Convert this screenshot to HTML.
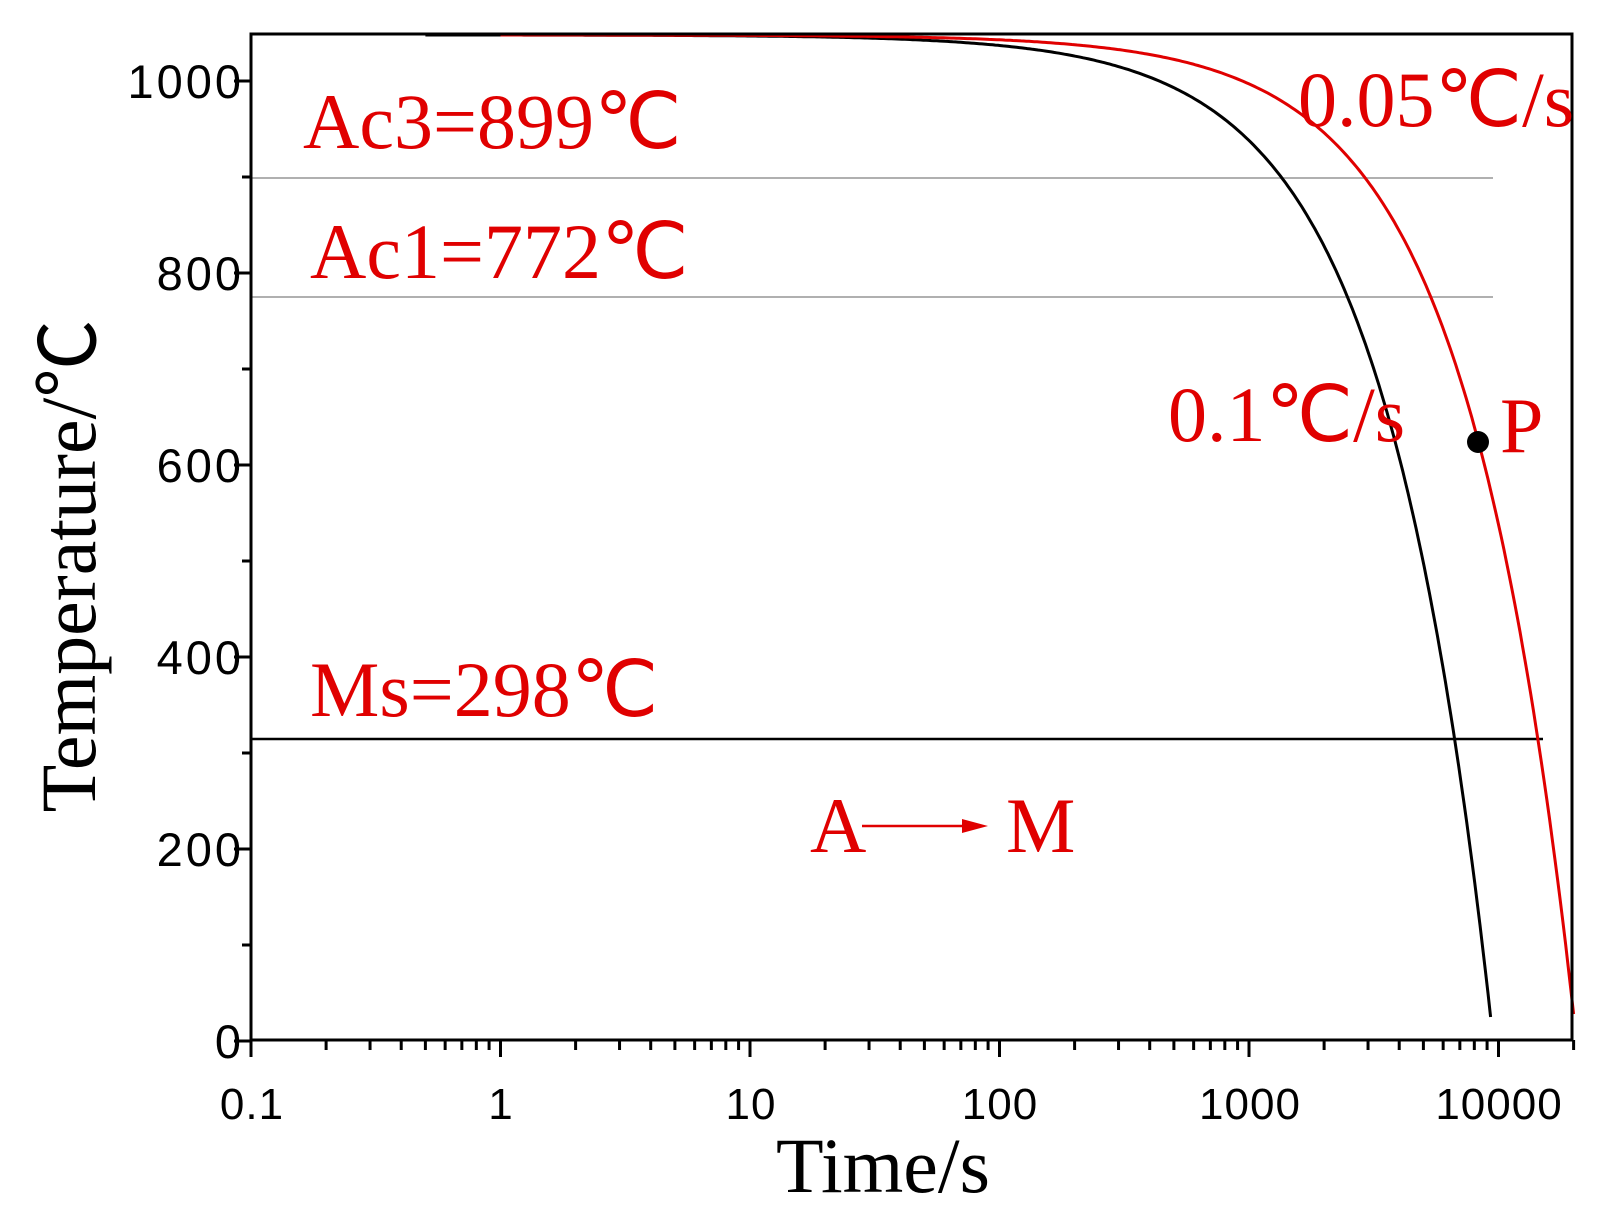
<!DOCTYPE html>
<html><head><meta charset="utf-8"><style>
html,body{margin:0;padding:0;background:#fff;}
svg{display:block;}
.t{font-family:"Liberation Serif",serif;fill:#e00000;}
.n{font-family:"Liberation Sans",sans-serif;fill:#000;}
</style></head><body>
<svg id="s" width="1617" height="1218" viewBox="0 0 1617 1218" xmlns="http://www.w3.org/2000/svg">
<rect width="1617" height="1218" fill="#fff"/>
<line x1="251" y1="178" x2="1493" y2="178" stroke="#b0b0b0" stroke-width="2"/>
<line x1="251" y1="297" x2="1493" y2="297" stroke="#b0b0b0" stroke-width="2"/>
<line x1="251" y1="739" x2="1543" y2="739" stroke="#000" stroke-width="2.5"/>
<g id="curves"></g>
<rect x="251" y="34" width="1321" height="1006" fill="none" stroke="#000" stroke-width="3"/>
<g id="ticks" stroke="#000" stroke-width="3"></g>
<g class="n" text-anchor="end" font-size="47" letter-spacing="3">
<text x="244" y="98">1000</text><text x="244" y="290">800</text><text x="244" y="482">600</text>
<text x="244" y="674">400</text><text x="244" y="866">200</text><text x="244" y="1058">0</text>
</g>
<g class="n" text-anchor="middle" font-size="44" letter-spacing="1">
<text x="252" y="1119">0.1</text><text x="501" y="1119">1</text><text x="751" y="1119">10</text>
<text x="1000" y="1119">100</text><text x="1250" y="1119">1000</text><text x="1499" y="1119">10000</text>
</g>
<text x="883" y="1192" text-anchor="middle" font-family="Liberation Serif,serif" font-size="78">Time/s</text>
<text transform="translate(95,566) rotate(-90)" text-anchor="middle" font-family="Liberation Serif,'Noto Sans CJK SC',serif" font-size="78">Temperature/℃</text>
<g class="t" font-size="78">
<text x="303" y="148">Ac3=899℃</text>
<text x="310" y="278">Ac1=772℃</text>
<text x="310" y="716">Ms=298℃</text>
<text x="1298" y="126">0.05℃/s</text>
<text x="1168" y="441">0.1℃/s</text>
<text x="1500" y="452">P</text>
<text x="810" y="852">A</text>
<text x="1006" y="852">M</text>
</g>
<line x1="862" y1="826" x2="968" y2="826" stroke="#e00000" stroke-width="2.5"/>
<polygon points="962,819 988,826 962,833" fill="#e00000"/>
<circle cx="1478" cy="442" r="11" fill="#000"/>
</svg>
<script>
(function(){
var ns="http://www.w3.org/2000/svg";
function X(t){return 251+249.5*(Math.log10(t)+1);}
function Y(T){return 1041-0.96*T;}
function curve(t0,r,T0,col,tend){
 var d="";var n=400;
 for(var i=0;i<=n;i++){var lt=Math.log10(t0)+(Math.log10(tend)-Math.log10(t0))*i/n;var t=Math.pow(10,lt);var T=T0-r*t;
  d+=(i?"L":"M")+X(t).toFixed(1)+","+Y(T).toFixed(1);}
 var p=document.createElementNS(ns,"path");p.setAttribute("d",d);p.setAttribute("fill","none");p.setAttribute("stroke",col);p.setAttribute("stroke-width","3");
 document.getElementById("curves").appendChild(p);
}
curve(0.5,0.11,1048,"#000",9300);
curve(1,0.051,1048,"#e00000",20000);
var g=document.getElementById("ticks");
function L(x1,y1,x2,y2){var l=document.createElementNS(ns,"line");l.setAttribute("x1",x1);l.setAttribute("y1",y1);l.setAttribute("x2",x2);l.setAttribute("y2",y2);g.appendChild(l);}
for(var v=0;v<=1000;v+=100){var y=Y(v);L(251,y,(v%200==0)?234:242,y);}
for(var e=-1;e<=4;e++){for(var m=1;m<=9;m++){var t=m*Math.pow(10,e);var x=X(t);if(x>1573)continue;L(x,1040,x,m==1?1057:1050);}}
L(X(20000),1040,X(20000),1050);
})();
</script>
</body></html>
